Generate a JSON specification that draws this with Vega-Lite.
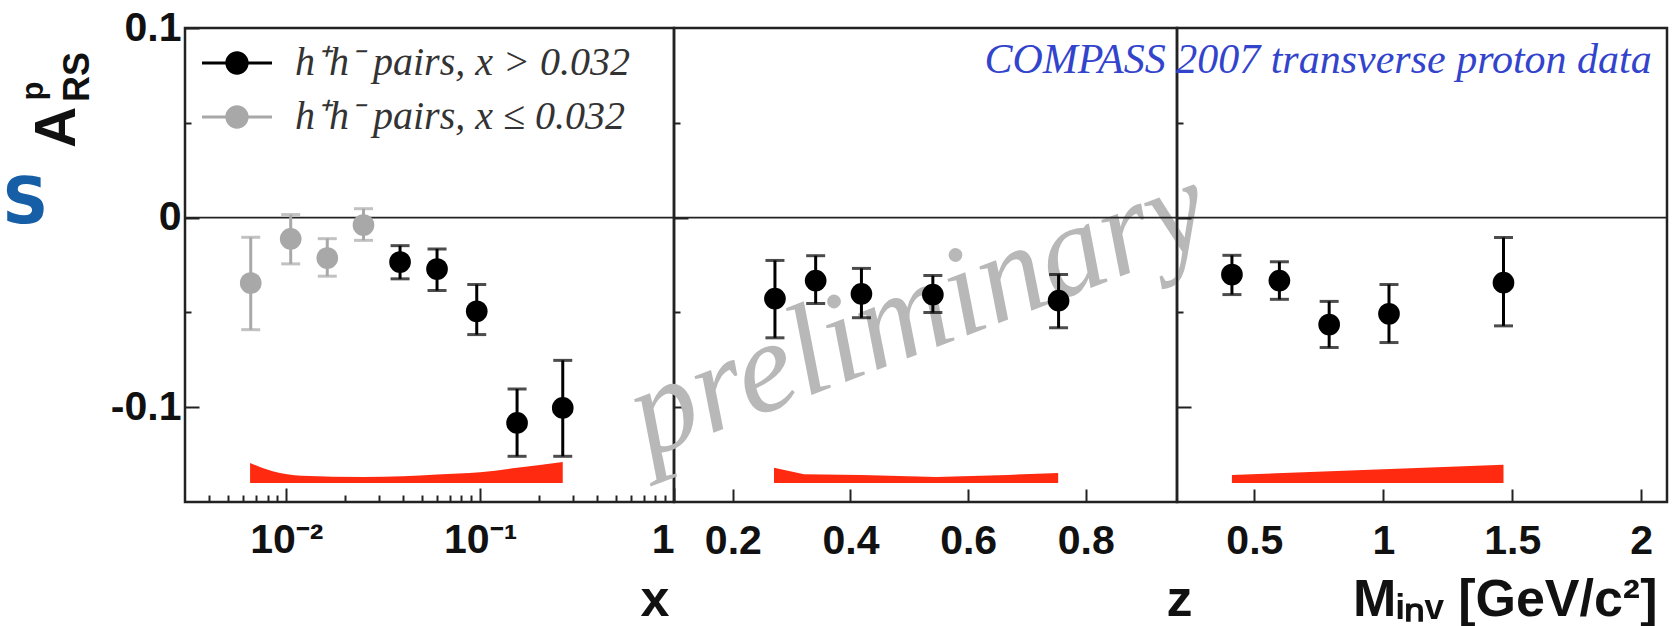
{
  "$schema": "https://vega.github.io/schema/vega-lite/v6.json",
  "background": "white",
  "padding": {"left": 0, "top": 5, "right": 0, "bottom": 0},
  "spacing": 0,
  "bounds": "flush",
  "resolve": {"scale": {"color": "independent"}, "legend": {"color": "independent"}},
  "config": {
    "view": {"stroke": "#222222", "strokeWidth": 2.5},
    "axis": {
      "grid": false, "domain": false, "tickColor": "#222222", "tickWidth": 2,
      "labelFont": "Liberation Sans", "labelFontWeight": "bold", "labelFontSize": 41, "labelColor": "#111111", "labelOverlap": false,
      "titleFont": "Liberation Sans", "titleFontWeight": "bold", "titleFontSize": 52, "titleColor": "#111111"
    }
  },
  "datasets": {
    "pts": [
      {"panel": "x", "v": 0.00655, "a": -0.0345, "lo": -0.0591, "hi": -0.0104, "series": "h⁺h⁻ pairs, x ≤ 0.032"},
      {"panel": "x", "v": 0.01053, "a": -0.0112, "lo": -0.0244, "hi": 0.0016, "series": "h⁺h⁻ pairs, x ≤ 0.032"},
      {"panel": "x", "v": 0.01626, "a": -0.0213, "lo": -0.0309, "hi": -0.0111, "series": "h⁺h⁻ pairs, x ≤ 0.032"},
      {"panel": "x", "v": 0.025, "a": -0.0039, "lo": -0.012, "hi": 0.0047, "series": "h⁺h⁻ pairs, x ≤ 0.032"},
      {"panel": "x", "v": 0.0386, "a": -0.0234, "lo": -0.0323, "hi": -0.0148, "series": "h⁺h⁻ pairs, x > 0.032"},
      {"panel": "x", "v": 0.0599, "a": -0.0271, "lo": -0.0385, "hi": -0.0165, "series": "h⁺h⁻ pairs, x > 0.032"},
      {"panel": "x", "v": 0.096, "a": -0.0494, "lo": -0.0617, "hi": -0.0353, "series": "h⁺h⁻ pairs, x > 0.032"},
      {"panel": "x", "v": 0.155, "a": -0.1083, "lo": -0.1259, "hi": -0.0904, "series": "h⁺h⁻ pairs, x > 0.032"},
      {"panel": "x", "v": 0.2667, "a": -0.1004, "lo": -0.1259, "hi": -0.0753, "series": "h⁺h⁻ pairs, x > 0.032"},
      {"panel": "z", "v": 0.2716, "a": -0.0427, "lo": -0.0634, "hi": -0.0226, "series": "h⁺h⁻ pairs, x > 0.032"},
      {"panel": "z", "v": 0.3408, "a": -0.0332, "lo": -0.0453, "hi": -0.0201, "series": "h⁺h⁻ pairs, x > 0.032"},
      {"panel": "z", "v": 0.4186, "a": -0.0402, "lo": -0.0528, "hi": -0.0268, "series": "h⁺h⁻ pairs, x > 0.032"},
      {"panel": "z", "v": 0.54, "a": -0.0406, "lo": -0.0501, "hi": -0.0306, "series": "h⁺h⁻ pairs, x > 0.032"},
      {"panel": "z", "v": 0.7537, "a": -0.0438, "lo": -0.0581, "hi": -0.03, "series": "h⁺h⁻ pairs, x > 0.032"},
      {"panel": "M", "v": 0.413, "a": -0.03, "lo": -0.0406, "hi": -0.0199, "series": "h⁺h⁻ pairs, x > 0.032"},
      {"panel": "M", "v": 0.597, "a": -0.0332, "lo": -0.0431, "hi": -0.0233, "series": "h⁺h⁻ pairs, x > 0.032"},
      {"panel": "M", "v": 0.79, "a": -0.0564, "lo": -0.0685, "hi": -0.0442, "series": "h⁺h⁻ pairs, x > 0.032"},
      {"panel": "M", "v": 1.022, "a": -0.0507, "lo": -0.0659, "hi": -0.0353, "series": "h⁺h⁻ pairs, x > 0.032"},
      {"panel": "M", "v": 1.466, "a": -0.0343, "lo": -0.0571, "hi": -0.0105, "series": "h⁺h⁻ pairs, x > 0.032"}
    ],
    "band": [
      {"panel": "x", "v": 0.0065, "top": -0.1294},
      {"panel": "x", "v": 0.0085, "top": -0.1338},
      {"panel": "x", "v": 0.012, "top": -0.1361},
      {"panel": "x", "v": 0.025, "top": -0.1368},
      {"panel": "x", "v": 0.04, "top": -0.1364},
      {"panel": "x", "v": 0.06, "top": -0.1355},
      {"panel": "x", "v": 0.1, "top": -0.1343},
      {"panel": "x", "v": 0.155, "top": -0.132},
      {"panel": "x", "v": 0.2667, "top": -0.1289},
      {"panel": "z", "v": 0.27, "top": -0.1319},
      {"panel": "z", "v": 0.321, "top": -0.1353},
      {"panel": "z", "v": 0.419, "top": -0.1357},
      {"panel": "z", "v": 0.546, "top": -0.1368},
      {"panel": "z", "v": 0.667, "top": -0.1357},
      {"panel": "z", "v": 0.753, "top": -0.1347},
      {"panel": "M", "v": 0.413, "top": -0.1357},
      {"panel": "M", "v": 1.466, "top": -0.1304}
    ]
  },
  "hconcat": [
    {
      "width": 489, "height": 474,
      "layer": [
        {
          "data": {"name": "band"}, "transform": [{"filter": "datum.panel == 'x'"}],
          "mark": {"type": "area", "color": "#ff2a10", "interpolate": "monotone"},
          "encoding": {
            "x": {"field": "v", "type": "quantitative", "scale": {"type": "log", "domain": [0.003, 1], "nice": false},
              "axis": {
                "values": [0.004, 0.005, 0.006, 0.007, 0.008, 0.009, 0.01, 0.02, 0.03, 0.04, 0.05, 0.06, 0.07, 0.08, 0.09, 0.1, 0.2, 0.3, 0.4, 0.5, 0.6, 0.7, 0.8, 0.9, 1],
                "labelExpr": "datum.value == 0.01 ? '10⁻²' : datum.value == 0.1 ? '10⁻¹' : datum.value == 1 ? '1' : ''",
                "tickSize": {"condition": {"test": "datum.value == 0.01 || datum.value == 0.1 || datum.value == 1", "value": -14}, "value": -7},
                "labelPadding": 32, "labelFlush": true,
                "title": "x", "titleX": 484, "titleY": 113, "titleAlign": "right", "titleBaseline": "alphabetic"
              }},
            "y": {"field": "top", "type": "quantitative", "scale": {"domain": [-0.15, 0.1], "nice": false, "zero": false},
              "axis": {
                "values": [-0.1, -0.05, 0, 0.05, 0.1],
                "labelExpr": "datum.value == 0.1 ? '0.1' : datum.value == 0 ? '0' : datum.value == -0.1 ? '-0.1' : ''",
                "tickSize": {"condition": {"test": "datum.value == 0.1 || datum.value == 0 || datum.value == -0.1", "value": -14}, "value": -6},
                "labelPadding": 18, "title": null
              }},
            "y2": {"datum": -0.14}
          }
        },
        {
          "data": {"values": [{}]},
          "mark": {"type": "rule", "color": "#222222", "strokeWidth": 1.8},
          "encoding": {"y": {"datum": 0, "type": "quantitative"}}
        },
        {
          "data": {"name": "pts"}, "transform": [{"filter": "datum.panel == 'x' && datum.series == 'h⁺h⁻ pairs, x ≤ 0.032'"}],
          "mark": {"type": "errorbar", "ticks": {"size": 19, "thickness": 3}, "rule": {"strokeWidth": 3}, "thickness": 3, "color": "#a8a8a8"},
          "encoding": {
            "x": {"field": "v", "type": "quantitative"},
            "y": {"field": "lo", "type": "quantitative"},
            "y2": {"field": "hi"}
          }
        },
        {
          "data": {"name": "pts"}, "transform": [{"filter": "datum.panel == 'x' && datum.series == 'h⁺h⁻ pairs, x > 0.032'"}],
          "mark": {"type": "errorbar", "ticks": {"size": 19, "thickness": 3}, "rule": {"strokeWidth": 3}, "thickness": 3, "color": "#000000"},
          "encoding": {
            "x": {"field": "v", "type": "quantitative"},
            "y": {"field": "lo", "type": "quantitative"},
            "y2": {"field": "hi"}
          }
        },
        {
          "data": {"name": "pts"}, "transform": [{"filter": "datum.panel == 'x'"}],
          "mark": {"type": "circle", "size": 470, "opacity": 1},
          "encoding": {
            "x": {"field": "v", "type": "quantitative"},
            "y": {"field": "a", "type": "quantitative"},
            "color": {"field": "series", "type": "nominal",
              "scale": {"domain": ["h⁺h⁻ pairs, x > 0.032", "h⁺h⁻ pairs, x ≤ 0.032"], "range": ["#000000", "#a8a8a8"]},
              "legend": {
                "orient": "none", "legendX": 32, "legendY": 15, "title": null, "padding": 0,
                "symbolType": "M-3,-0.12L3,-0.12L3,0.12L-3,0.12ZM-1,0A1,1,0,1,1,1,0A1,1,0,1,1,-1,0Z",
                "symbolSize": 544,
                "labelFont": "Liberation Serif", "labelFontStyle": "italic", "labelFontSize": 40, "labelColor": "#333333",
                "labelOffset": 38, "rowPadding": 14, "labelLimit": 1000,
                "encode": {"symbols": {"update": {
                  "shape": {"value": "M-3,-0.12L3,-0.12L3,0.12L-3,0.12ZM-1,0A1,1,0,1,1,1,0A1,1,0,1,1,-1,0Z"},
                  "size": {"value": 544}
                }}}
              }}
          }
        },
        {
          "data": {"values": [{}]},
          "mark": {"type": "text", "text": "A", "font": "Liberation Sans", "fontWeight": "bold", "fontSize": 57, "angle": 270, "align": "center", "baseline": "middle", "color": "#111111"},
          "encoding": {"x": {"datum": 0.000665, "type": "quantitative"}, "y": {"datum": 0.0475, "type": "quantitative"}}
        },
        {
          "data": {"values": [{}]},
          "mark": {"type": "text", "text": "p", "font": "Liberation Sans", "fontWeight": "bold", "fontSize": 31, "angle": 270, "align": "center", "baseline": "middle", "color": "#111111"},
          "encoding": {"x": {"datum": 0.000497, "type": "quantitative"}, "y": {"datum": 0.0668, "type": "quantitative"}}
        },
        {
          "data": {"values": [{}]},
          "mark": {"type": "text", "text": "RS", "font": "Liberation Sans", "fontWeight": "bold", "fontSize": 36, "angle": 270, "align": "center", "baseline": "middle", "color": "#111111"},
          "encoding": {"x": {"datum": 0.000842, "type": "quantitative"}, "y": {"datum": 0.0742, "type": "quantitative"}}
        },
        {
          "data": {"values": [{}]},
          "mark": {"type": "text", "text": "S", "font": "DejaVu Sans", "fontWeight": "bold", "fontSize": 64, "align": "left", "baseline": "middle", "color": "#165ea6"},
          "encoding": {"x": {"datum": 0.000342, "type": "quantitative"}, "y": {"datum": 0.0072, "type": "quantitative"}}
        }
      ]
    },
    {
      "width": 503, "height": 474,
      "layer": [
        {
          "data": {"name": "band"}, "transform": [{"filter": "datum.panel == 'z'"}],
          "mark": {"type": "area", "color": "#ff2a10"},
          "encoding": {
            "x": {"field": "v", "type": "quantitative", "scale": {"domain": [0.1, 0.955], "nice": false, "zero": false},
              "axis": {
                "values": [0.2, 0.4, 0.6, 0.8], "format": ".1f", "tickSize": -13, "labelPadding": 32,
                "title": "z", "titleX": 518, "titleY": 113, "titleAlign": "right", "titleBaseline": "alphabetic"
              }},
            "y": {"field": "top", "type": "quantitative", "scale": {"domain": [-0.15, 0.1], "nice": false, "zero": false},
              "axis": {
                "values": [-0.1, -0.05, 0, 0.05], "labels": false,
                "tickSize": {"condition": {"test": "datum.value == 0 || datum.value == -0.1", "value": -14}, "value": -6},
                "title": null
              }},
            "y2": {"datum": -0.14}
          }
        },
        {
          "data": {"values": [{}]},
          "mark": {"type": "text", "text": "preliminary", "font": "Liberation Serif", "fontStyle": "italic", "fontSize": 130, "angle": 339, "align": "center", "baseline": "middle", "color": "#b8b8b8"},
          "encoding": {"x": {"datum": 0.515, "type": "quantitative"}, "y": {"datum": -0.05, "type": "quantitative"}}
        },
        {
          "data": {"values": [{}]},
          "mark": {"type": "rule", "color": "#222222", "strokeWidth": 1.8},
          "encoding": {"y": {"datum": 0, "type": "quantitative"}}
        },
        {
          "data": {"name": "pts"}, "transform": [{"filter": "datum.panel == 'z'"}],
          "mark": {"type": "errorbar", "ticks": {"size": 19, "thickness": 3}, "rule": {"strokeWidth": 3}, "thickness": 3, "color": "#000000"},
          "encoding": {
            "x": {"field": "v", "type": "quantitative"},
            "y": {"field": "lo", "type": "quantitative"},
            "y2": {"field": "hi"}
          }
        },
        {
          "data": {"name": "pts"}, "transform": [{"filter": "datum.panel == 'z'"}],
          "mark": {"type": "circle", "size": 470, "opacity": 1, "color": "#000000"},
          "encoding": {
            "x": {"field": "v", "type": "quantitative"},
            "y": {"field": "a", "type": "quantitative"}
          }
        }
      ]
    },
    {
      "width": 490, "height": 474,
      "layer": [
        {
          "data": {"name": "band"}, "transform": [{"filter": "datum.panel == 'M'"}],
          "mark": {"type": "area", "color": "#ff2a10"},
          "encoding": {
            "x": {"field": "v", "type": "quantitative", "scale": {"domain": [0.2, 2.1], "nice": false, "zero": false},
              "axis": {
                "values": [0.5, 1, 1.5, 2],
                "labelExpr": "datum.value == 1 || datum.value == 2 ? format(datum.value, 'd') : format(datum.value, '.1f')",
                "tickSize": -13, "labelPadding": 32,
                "title": "Mᵢₙᵥ [GeV/c²]", "titleX": 480, "titleY": 113, "titleAlign": "right", "titleBaseline": "alphabetic"
              }},
            "y": {"field": "top", "type": "quantitative", "scale": {"domain": [-0.15, 0.1], "nice": false, "zero": false},
              "axis": {
                "values": [-0.1, -0.05, 0, 0.05], "labels": false,
                "tickSize": {"condition": {"test": "datum.value == 0 || datum.value == -0.1", "value": -14}, "value": -6},
                "title": null
              }},
            "y2": {"datum": -0.14}
          }
        },
        {
          "data": {"values": [{}]},
          "mark": {"type": "rule", "color": "#222222", "strokeWidth": 1.8},
          "encoding": {"y": {"datum": 0, "type": "quantitative"}}
        },
        {
          "data": {"name": "pts"}, "transform": [{"filter": "datum.panel == 'M'"}],
          "mark": {"type": "errorbar", "ticks": {"size": 19, "thickness": 3}, "rule": {"strokeWidth": 3}, "thickness": 3, "color": "#000000"},
          "encoding": {
            "x": {"field": "v", "type": "quantitative"},
            "y": {"field": "lo", "type": "quantitative"},
            "y2": {"field": "hi"}
          }
        },
        {
          "data": {"name": "pts"}, "transform": [{"filter": "datum.panel == 'M'"}],
          "mark": {"type": "circle", "size": 470, "opacity": 1, "color": "#000000"},
          "encoding": {
            "x": {"field": "v", "type": "quantitative"},
            "y": {"field": "a", "type": "quantitative"}
          }
        },
        {
          "data": {"values": [{}]},
          "mark": {"type": "text", "text": "COMPASS 2007 transverse proton data", "font": "Liberation Serif", "fontStyle": "italic", "fontSize": 42, "align": "right", "baseline": "alphabetic", "color": "#3344cc"},
          "encoding": {"x": {"datum": 2.041, "type": "quantitative"}, "y": {"datum": 0.0763, "type": "quantitative"}}
        }
      ]
    }
  ]
}
